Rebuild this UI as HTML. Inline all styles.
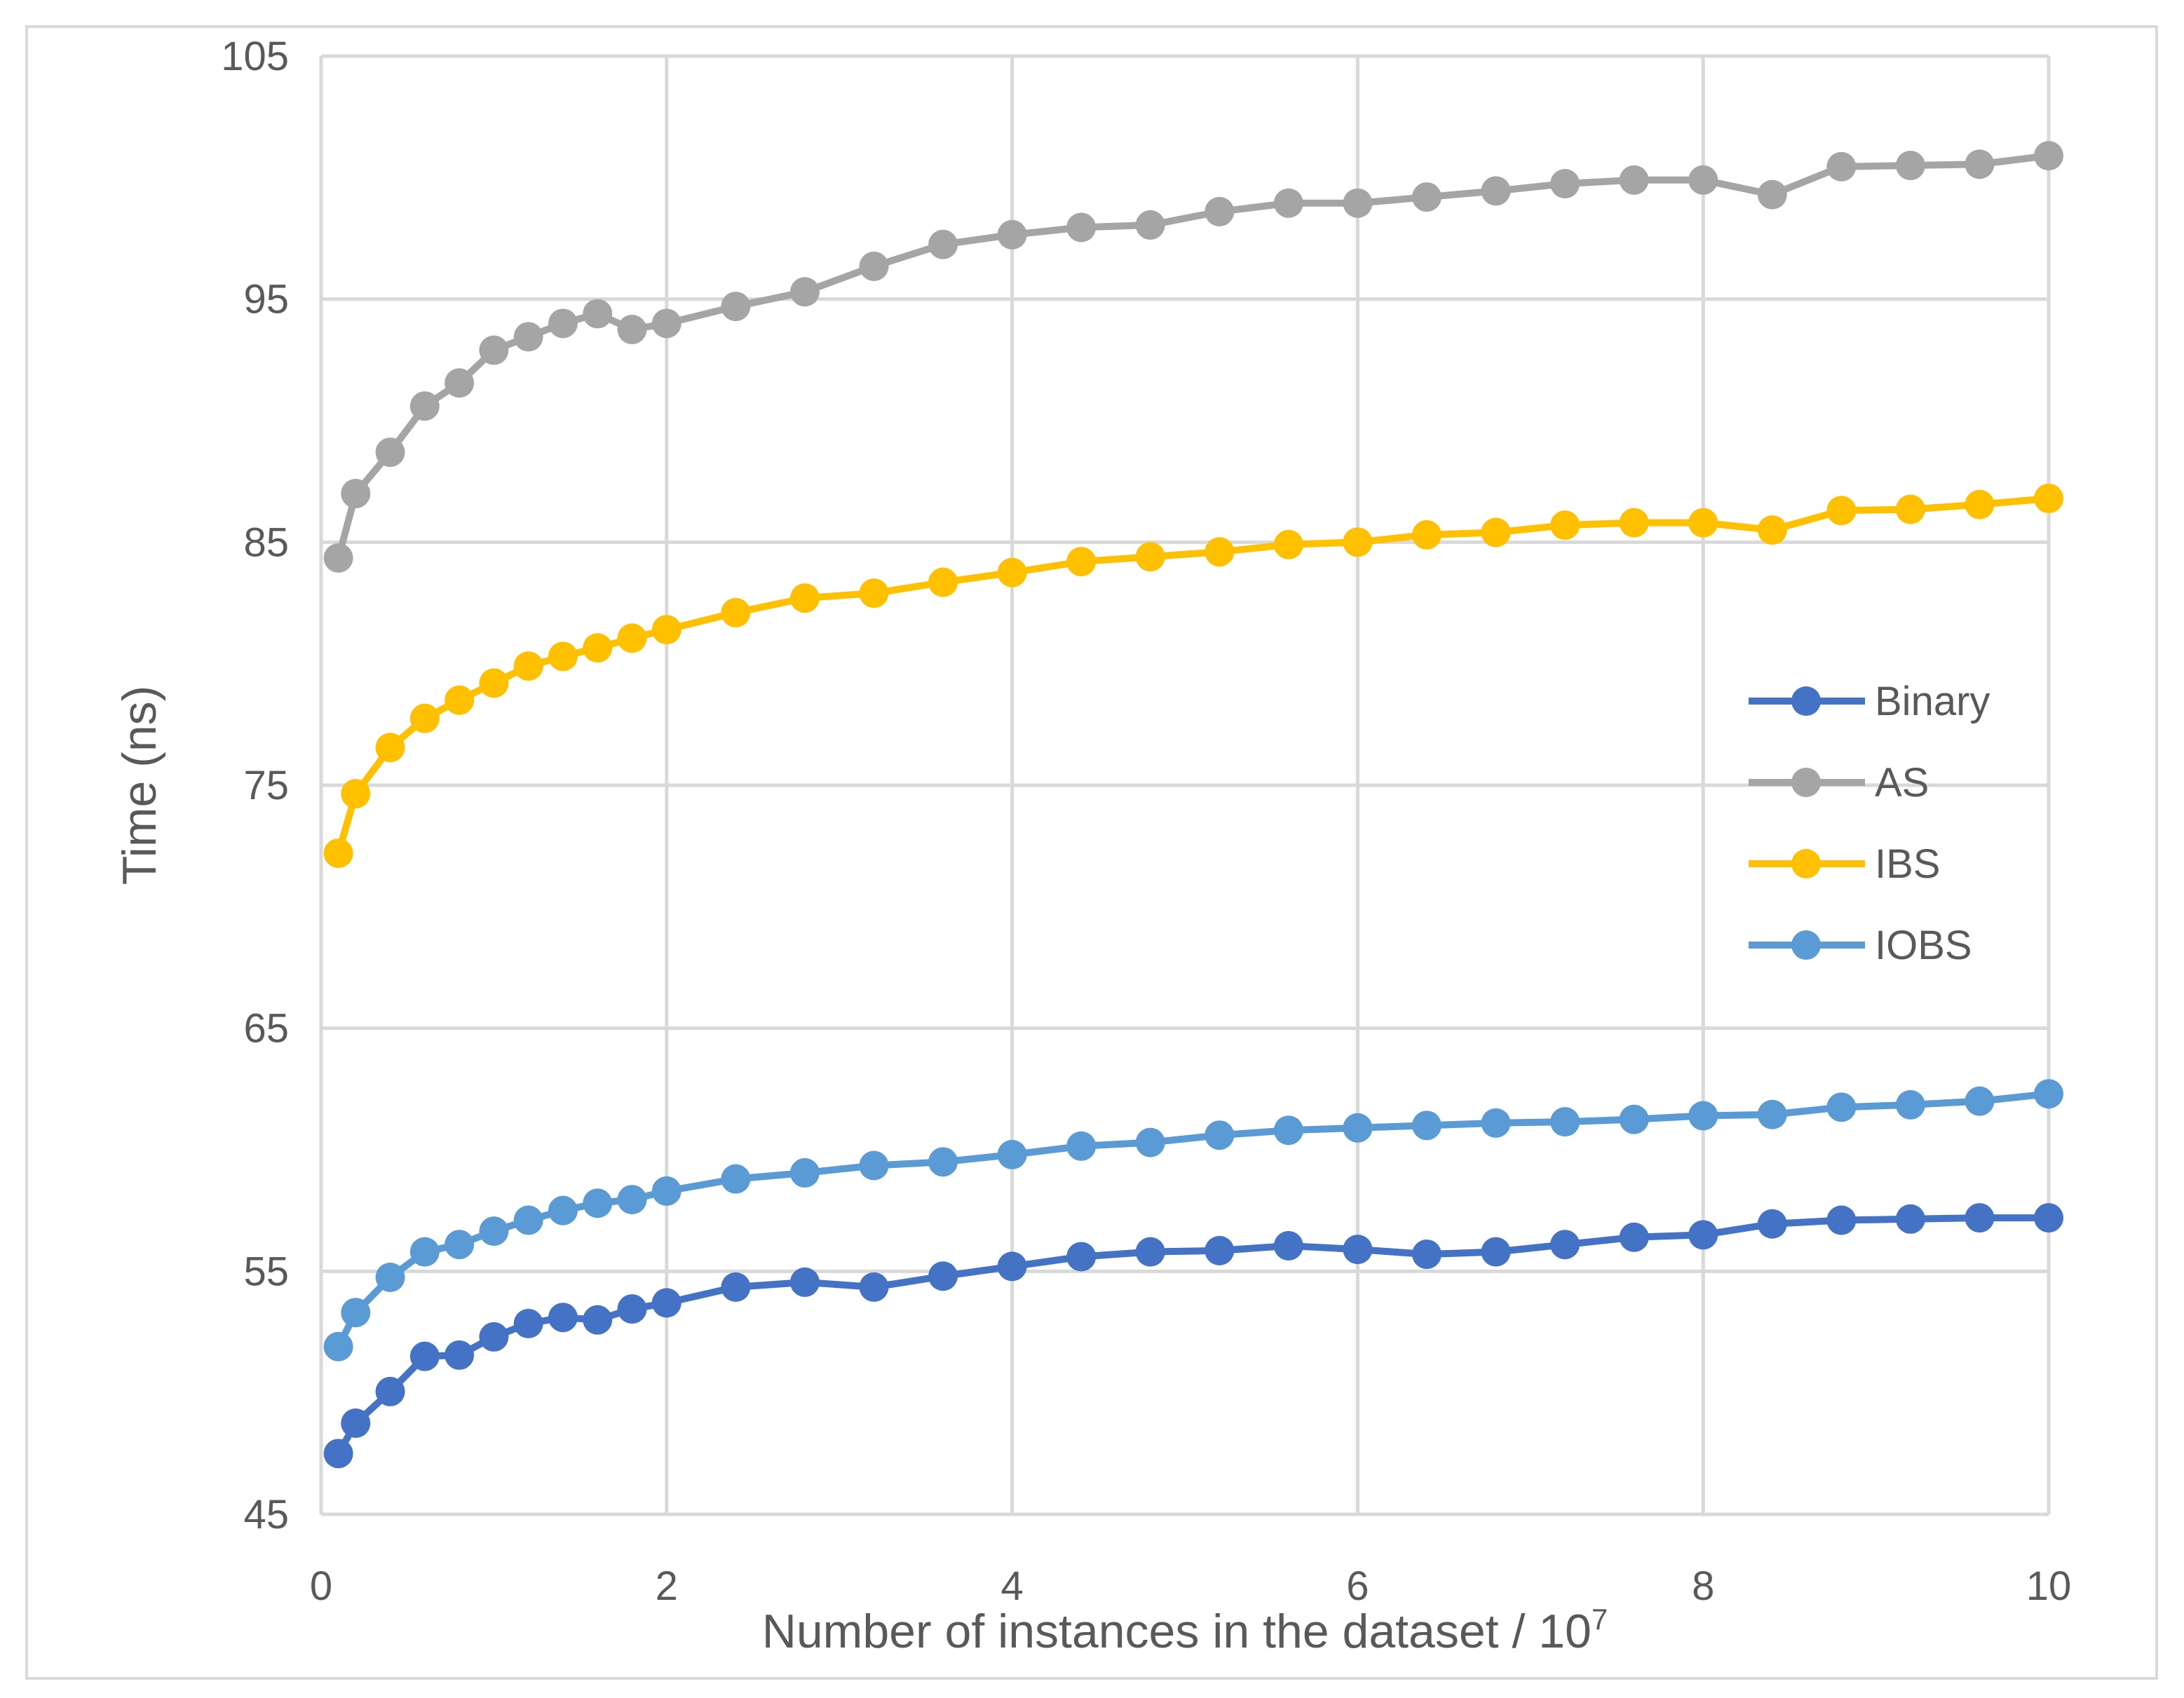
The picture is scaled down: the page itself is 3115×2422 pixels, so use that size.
<!DOCTYPE html>
<html><head><meta charset="utf-8"><style>
html,body{margin:0;padding:0;background:#fff;}
svg text{font-family:"Liberation Sans",sans-serif;fill:#595959;}
</style></head><body>
<svg id="chart" width="3115" height="2417" viewBox="0 0 3115 2417" xmlns="http://www.w3.org/2000/svg">
<rect x="38" y="38" width="3038" height="2356" fill="#fff" stroke="#D9D9D9" stroke-width="4"/>
<g id="grid"></g><g id="series"></g><g id="labels"></g><g id="legend"></g>
</svg>
<script>
const xValues=[0.1,0.2,0.4,0.6,0.8,1.0,1.2,1.4,1.6,1.8,2.0,2.4,2.8,3.2,3.6,4.0,4.4,4.8,5.2,5.6,6.0,6.4,6.8,7.2,7.6,8.0,8.4,8.8,9.2,9.6,10.0];
const binary=[47.5,48.75,50.05,51.5,51.55,52.3,52.85,53.1,53.0,53.45,53.7,54.35,54.55,54.35,54.8,55.2,55.6,55.8,55.85,56.05,55.9,55.7,55.8,56.1,56.4,56.5,56.95,57.1,57.15,57.2,57.2];
const as=[84.35,87.0,88.7,90.6,91.55,92.9,93.45,94.0,94.4,93.75,94.0,94.7,95.3,96.35,97.25,97.65,97.95,98.05,98.6,98.95,98.95,99.2,99.45,99.75,99.9,99.9,99.3,100.45,100.5,100.55,100.9];
const ibs=[72.2,74.65,76.55,77.75,78.5,79.2,79.9,80.3,80.65,81.05,81.4,82.1,82.7,82.9,83.35,83.75,84.2,84.4,84.6,84.9,85.0,85.3,85.4,85.7,85.8,85.8,85.5,86.3,86.35,86.55,86.8];
const iobs=[51.9,53.3,54.75,55.8,56.1,56.65,57.1,57.5,57.8,57.95,58.3,58.8,59.05,59.35,59.5,59.8,60.15,60.3,60.6,60.8,60.9,61.0,61.1,61.15,61.25,61.4,61.45,61.75,61.85,62.0,62.3];
const xTicks=[0,2,4,6,8,10];
const yTicks=[45,55,65,75,85,95,105];
const seriesNames=["Binary","AS","IBS","IOBS"];
const seriesColors=["#4472C4","#A5A5A5","#FFC000","#5B9BD5"];
const NS="http://www.w3.org/2000/svg";
const X0=458,X1=2922,Y0=2160,Y1=80;
const sx=v=>X0+(v-0)/10*(X1-X0);
const sy=v=>Y0-(v-45)/60*(Y0-Y1);
function mk(tag,attrs,parent){const e=document.createElementNS(NS,tag);for(const k in attrs)e.setAttribute(k,attrs[k]);parent.appendChild(e);return e;}
const grid=document.getElementById('grid'),labels=document.getElementById('labels'),ser=document.getElementById('series'),leg=document.getElementById('legend');
yTicks.forEach(t=>{
 const l=mk('line',{x1:X0,x2:X1,y1:sy(t),y2:sy(t),stroke:'#D9D9D9','stroke-width':5},grid);
 
 
 const tx=mk('text',{x:412,y:sy(t)+20,'text-anchor':'end','font-size':58},labels);tx.textContent=t;
 
 
});
xTicks.forEach(t=>{
 const l=mk('line',{x1:sx(t),x2:sx(t),y1:Y1,y2:Y0,stroke:'#D9D9D9','stroke-width':5},grid);
 
 
 const tx=mk('text',{x:sx(t),y:2282,'text-anchor':'middle','font-size':58},labels);tx.textContent=t;
 
 
});
const yt=mk('text',{x:0,y:0,'text-anchor':'middle','font-size':68,transform:'translate(222,1120) rotate(-90)'},labels);
yt.textContent='Time (ns)';


const xt=mk('text',{x:1690,y:2350,'text-anchor':'middle','font-size':68},labels);
xt.innerHTML='Number of instances in the dataset / 10<tspan dy="-26" font-size="42">7</tspan>';


const data=[binary,as,ibs,iobs];
[1,2,3,0].forEach(i=>{
 const g=mk('g',{},ser);
 
 
 const pts=xValues.map((x,j)=>sx(x)+','+sy(data[i][j])).join(' ');
 const pl=mk('polyline',{points:pts,fill:'none',stroke:seriesColors[i],'stroke-width':10,'stroke-linejoin':'round'},g);
 
 
 xValues.forEach((x,j)=>{
  const c=mk('circle',{cx:sx(x),cy:sy(data[i][j]),r:21,fill:seriesColors[i]},g);
  
  
 });
});
seriesNames.forEach((n,i)=>{
 const y=1000+i*116;
 const g=mk('g',{},leg);
 
 
 mk('line',{x1:2494,x2:2660,y1:y,y2:y,stroke:seriesColors[i],'stroke-width':10},g);
 mk('circle',{cx:2576,cy:y,r:21,fill:seriesColors[i]},g);
 const t=mk('text',{x:2674,y:y+20,'font-size':58},g);t.textContent=n;
});
</script>
</body></html>
